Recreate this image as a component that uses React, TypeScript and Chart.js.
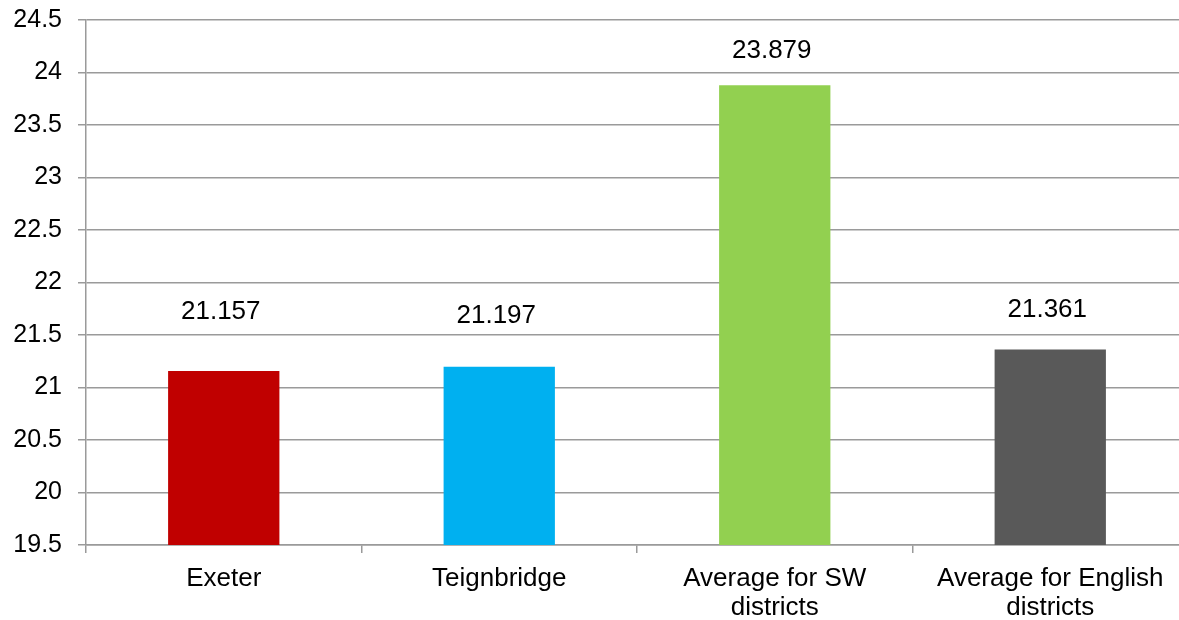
import React, { useEffect, useRef } from "react";
import { Chart, registerables } from "chart.js";

Chart.register(...registerables);

// Chart data
const categories: (string | string[])[] = [
  "Exeter",
  "Teignbridge",
  ["Average for SW", "districts"],
  ["Average for English", "districts"],
];
const values: number[] = [21.157, 21.197, 23.879, 21.361];
const valueLabels: string[] = ["21.157", "21.197", "23.879", "21.361"];
const barColors: string[] = ["#C00000", "#00B0F0", "#92D050", "#595959"];

// Axis range
const yMin = 19.5;
const yMax = 24.5;
const yStep = 0.5;

// Vertical distance of each value label above its bar (px)
const labelLift: number[] = [59, 51, 34, 40];

const FONT = "'Liberation Sans', Arial, sans-serif";
const GRID = "#9a9a9a";

const valueLabelPlugin = {
  id: "valueLabels",
  afterDatasetsDraw(chart: any) {
    const ctx = chart.ctx;
    const meta = chart.getDatasetMeta(0);
    ctx.save();
    ctx.font = `26px ${FONT}`;
    ctx.fillStyle = "#000000";
    ctx.textAlign = "center";
    ctx.textBaseline = "middle";
    meta.data.forEach((bar: any, i: number) => {
      ctx.fillText(valueLabels[i], bar.x - 3, bar.y - labelLift[i]);
    });
    ctx.restore();
  },
};

export default function App() {
  const canvasRef = useRef<HTMLCanvasElement | null>(null);

  useEffect(() => {
    if (!canvasRef.current) return;
    const chart = new Chart(canvasRef.current, {
      type: "bar",
      data: {
        labels: categories,
        datasets: [
          {
            data: values,
            backgroundColor: barColors,
            borderWidth: 0,
            categoryPercentage: 1,
            barPercentage: 0.404,
          },
        ],
      },
      options: {
        animation: false,
        responsive: false,
        devicePixelRatio: 1,
        layout: { padding: { top: 20, right: 2, left: 0, bottom: 0 } },
        plugins: {
          legend: { display: false },
          tooltip: { enabled: false },
        },
        scales: {
          x: {
            grid: {
              display: true,
              drawOnChartArea: false,
              drawTicks: true,
              tickLength: 8,
              color: GRID,
              lineWidth: 1.5,
            },
            border: { display: true, color: GRID, width: 1.5 },
            ticks: {
              color: "#000000",
              font: { family: FONT, size: 26, lineHeight: 1.12 },
              padding: 11,
              maxRotation: 0,
              autoSkip: false,
            },
            afterFit(scale: any) {
              scale.height = 75;
            },
          },
          y: {
            min: yMin,
            max: yMax,
            grid: {
              color: GRID,
              lineWidth: 1.5,
              tickLength: 8,
            },
            border: { display: true, color: GRID, width: 1.5 },
            ticks: {
              stepSize: yStep,
              color: "#000000",
              font: { family: FONT, size: 25 },
              padding: 16,
              callback: (v: any) => String(Math.round(Number(v) * 10) / 10),
            },
            afterFit(scale: any) {
              scale.width = 86;
              scale.paddingTop = 0;
              scale.paddingBottom = 0;
            },
          },
        },
      },
      plugins: [valueLabelPlugin],
    });
    return () => chart.destroy();
  }, []);

  return (
    <div
      style={{
        position: "fixed",
        left: 0,
        top: 0,
        width: 1179,
        height: 620,
        overflow: "hidden",
        background: "#ffffff",
      }}
    >
      <canvas ref={canvasRef} width={1190} height={620} style={{ display: "block" }} />
    </div>
  );
}
